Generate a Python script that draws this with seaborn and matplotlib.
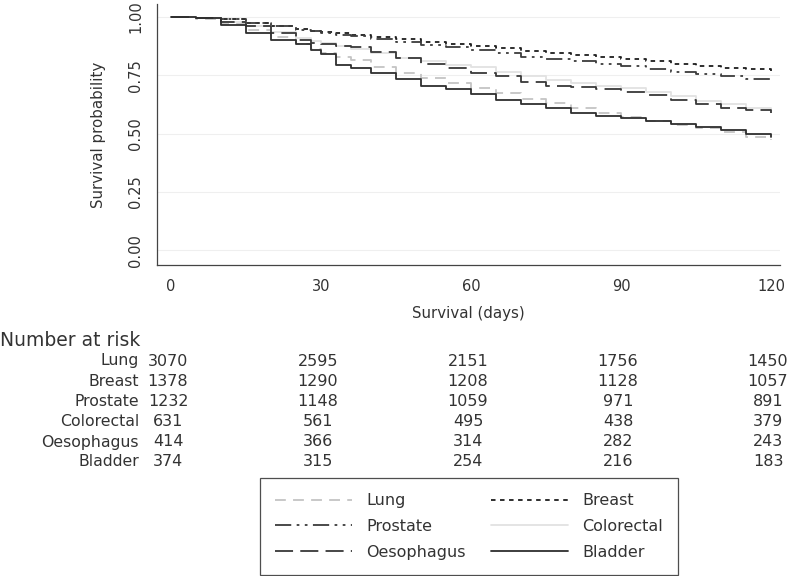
import numpy as np
import pandas as pd
import matplotlib
matplotlib.use("Agg")
import matplotlib.pyplot as plt
import seaborn as sns

# ---- data ----
days = [0, 5, 10, 15, 20, 25, 28, 30, 33, 36, 40, 45, 50, 55, 60, 65, 70, 75,
        80, 85, 90, 95, 100, 105, 110, 115, 120]
lung = [1.0, 0.99, 0.97, 0.945, 0.915, 0.885, 0.865, 0.845, 0.83, 0.815, 0.785,
        0.76, 0.74, 0.715, 0.695, 0.672, 0.65, 0.632, 0.608, 0.588, 0.57, 0.552,
        0.536, 0.522, 0.505, 0.487, 0.472]
breast = [1.0, 0.997, 0.99, 0.975, 0.96, 0.948, 0.94, 0.936, 0.93, 0.925, 0.915,
          0.905, 0.895, 0.886, 0.877, 0.866, 0.855, 0.845, 0.838, 0.83, 0.819,
          0.81, 0.8, 0.79, 0.782, 0.775, 0.767]
prostate = [1.0, 0.997, 0.99, 0.975, 0.96, 0.945, 0.938, 0.932, 0.925, 0.92,
            0.905, 0.892, 0.88, 0.87, 0.86, 0.845, 0.83, 0.818, 0.81, 0.8, 0.788,
            0.775, 0.765, 0.755, 0.745, 0.735, 0.723]
colorectal = [1.0, 0.995, 0.98, 0.96, 0.935, 0.91, 0.898, 0.889, 0.875, 0.865,
              0.845, 0.825, 0.81, 0.795, 0.784, 0.765, 0.745, 0.73, 0.715, 0.703,
              0.694, 0.68, 0.66, 0.64, 0.625, 0.61, 0.6]
oesophagus = [1.0, 0.995, 0.98, 0.96, 0.93, 0.9, 0.89, 0.886, 0.876, 0.872, 0.85,
              0.823, 0.8, 0.78, 0.758, 0.745, 0.72, 0.705, 0.7, 0.69, 0.68, 0.665,
              0.645, 0.625, 0.61, 0.6, 0.587]
bladder = [1.0, 0.995, 0.965, 0.93, 0.9, 0.885, 0.86, 0.842, 0.795, 0.78, 0.76,
           0.735, 0.705, 0.69, 0.67, 0.645, 0.625, 0.61, 0.59, 0.575, 0.567, 0.555,
           0.54, 0.528, 0.515, 0.5, 0.486]

sites = ["Lung", "Breast", "Prostate", "Colorectal", "Oesophagus", "Bladder"]
risk_days = [0, 30, 60, 90, 120]
risk = {
    "Lung": [3070, 2595, 2151, 1756, 1450],
    "Breast": [1378, 1290, 1208, 1128, 1057],
    "Prostate": [1232, 1148, 1059, 971, 891],
    "Colorectal": [631, 561, 495, 438, 379],
    "Oesophagus": [414, 366, 314, 282, 243],
    "Bladder": [374, 315, 254, 216, 183],
}
y_ticks = [0.0, 0.25, 0.5, 0.75, 1.0]
y_tick_labels = ["0.00", "0.25", "0.50", "0.75", "1.00"]

series = {"Lung": lung, "Breast": breast, "Prostate": prostate,
          "Colorectal": colorectal, "Oesophagus": oesophagus, "Bladder": bladder}
df = pd.concat([pd.DataFrame({"day": days, "surv": v, "site": k})
                for k, v in series.items()], ignore_index=True)

palette = {"Lung": "#c4c4c4", "Breast": "#1e1e1e", "Prostate": "#3c3c3c",
           "Colorectal": "#e2e2e2", "Oesophagus": "#383838", "Bladder": "#2e2e2e"}
dashes = {"Lung": (6, 4), "Breast": (2.5, 2.5), "Prostate": (9, 3, 1.5, 3, 1.5, 3),
          "Colorectal": "", "Oesophagus": (10, 4), "Bladder": ""}

sns.set_style("white")
plt.rcParams["font.family"] = ["DejaVu Sans"]
txt = "#333333"

fig = plt.figure(figsize=(7.87, 5.76), dpi=100)
ax = fig.add_axes([157 / 787, 1 - 265 / 576, (780 - 157) / 787, (265 - 4) / 576])

for y in y_ticks:
    ax.axhline(y, color="#efefef", lw=0.8, zorder=0)

sns.lineplot(data=df, x="day", y="surv", hue="site", style="site",
             palette=palette, dashes=dashes, drawstyle="steps-post",
             estimator=None, legend=False, lw=1.3, ax=ax, hue_order=sites,
             style_order=sites)

ax.set_xlim(-2.8, 121.8)
ax.set_ylim(-0.064, 1.056)
ax.set_xticks(risk_days)
ax.set_yticks(y_ticks)
ax.set_yticklabels(y_tick_labels, rotation=90, va="center")
ax.tick_params(axis="both", direction="out", length=5, width=0.9, color="#444444",
               labelsize=10.5, labelcolor=txt, pad=5)
for s in ["top", "right"]:
    ax.spines[s].set_visible(False)
for s in ["left", "bottom"]:
    ax.spines[s].set_color("#444444")
    ax.spines[s].set_linewidth(0.9)
ax.set_xlabel("Survival (days)", fontsize=10.8, color=txt, labelpad=9)
ax.set_ylabel("Survival probability", fontsize=10.8, color=txt, labelpad=16)

# number at risk table
fig.text(0.0, 1 - 340 / 576, "Number at risk", fontsize=13.5, color=txt,
         ha="left", va="center")
trans = matplotlib.transforms.blended_transform_factory(ax.transData, fig.transFigure)
row_y = [361, 382, 402, 422, 442, 461]
for site, yy in zip(sites, row_y):
    fig.text(139 / 787, 1 - yy / 576, site, fontsize=11.3, color=txt,
             ha="right", va="center")
    for d, n in zip(risk_days, risk[site]):
        ax.text(d - 0.6, 1 - yy / 576, str(n), transform=trans, fontsize=11.5,
                color=txt, ha="center", va="center", clip_on=False)

# legend
by_site = dict(zip(sites, ax.lines[len(y_ticks):len(y_ticks) + len(sites)]))
order = ["Lung", "Prostate", "Oesophagus", "Breast", "Colorectal", "Bladder"]
leg = fig.legend([by_site[s] for s in order], order, ncol=2,
                 loc="upper center", bbox_to_anchor=(469 / 787, 1 - 478 / 576),
                 frameon=True, fancybox=False, edgecolor="#222222",
                 fontsize=11.5, handlelength=4.8, handletextpad=0.9,
                 columnspacing=1.6, labelspacing=0.68, borderpad=0.95,
                 borderaxespad=0)
leg.get_frame().set_linewidth(0.9)
for t in leg.get_texts():
    t.set_color(txt)

fig.savefig("out.png", dpi=100)
